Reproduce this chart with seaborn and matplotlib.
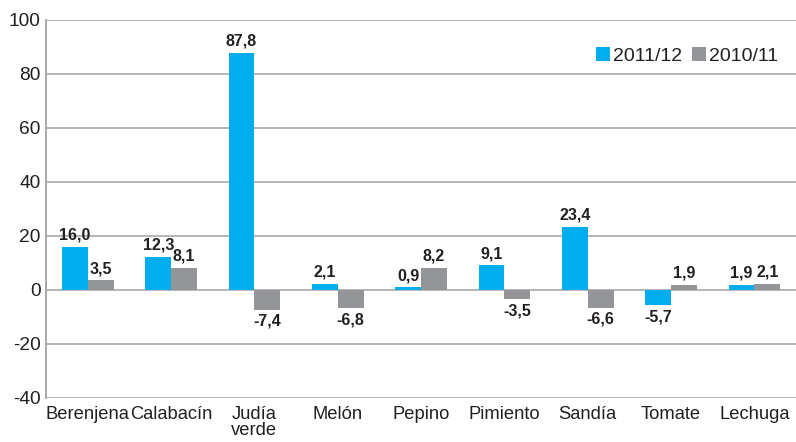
import matplotlib
matplotlib.use("Agg")
import matplotlib.pyplot as plt
import seaborn as sns
import pandas as pd

categories = ["Berenjena", "Calabacín", "Judía\nverde", "Melón", "Pepino",
              "Pimiento", "Sandía", "Tomate", "Lechuga"]
series_names = ["2011/12", "2010/11"]
values_2011_12 = [16.0, 12.3, 87.8, 2.1, 0.9, 9.1, 23.4, -5.7, 1.9]
values_2010_11 = [3.5, 8.1, -7.4, -6.8, 8.2, -3.5, -6.6, 1.9, 2.1]
y_ticks = [-40, -20, 0, 20, 40, 60, 80, 100]

df = pd.DataFrame({
    "cultivo": categories * 2,
    "campaña": [series_names[0]] * len(categories) + [series_names[1]] * len(categories),
    "variación": values_2011_12 + values_2010_11,
})

sns.set_theme(style="white")
plt.rcParams["font.family"] = ["Liberation Sans", "DejaVu Sans"]

text_color = "#231F20"
palette = {"2011/12": "#00AEEF", "2010/11": "#939598"}

fig = plt.figure(figsize=(7.96, 4.42), dpi=100)
ax = fig.add_axes([0.058, 0.10, 0.942, 0.855])

sns.barplot(data=df, x="cultivo", y="variación", hue="campaña",
            palette=palette, width=0.62, saturation=1, linewidth=0,
            ax=ax, zorder=3)

ax.set_ylim(-40, 100)
ax.set_yticks(y_ticks)
ax.set_yticklabels([str(t) for t in y_ticks])
ax.yaxis.grid(True, color="#B5B6B8", linewidth=1.4, zorder=0)
ax.set_axisbelow(True)
ax.set_xlim(-0.5, len(categories) - 0.5)
ax.set_xlabel("")
ax.set_ylabel("")
ax.tick_params(axis="y", length=0, labelsize=13.8, colors=text_color, pad=4)
ax.tick_params(axis="x", length=0, labelsize=13.2, colors=text_color, pad=6)
for lbl in ax.get_xticklabels():
    lbl.set_verticalalignment("top")
    lbl.set_linespacing(0.95)

for side in ["top", "right", "bottom"]:
    ax.spines[side].set_visible(False)
ax.spines["left"].set_color("#A7A9AC")
ax.spines["left"].set_linewidth(1.4)

for container in ax.containers:
    labels = [f"{b.get_height():.1f}".replace(".", ",") for b in container]
    ax.bar_label(container, labels=labels, padding=3, fontsize=11.5,
                 fontweight="bold", color=text_color)

ax.legend(loc="upper right", bbox_to_anchor=(1.0, 0.975), ncol=2,
          frameon=False, fontsize=14, handlelength=0.75, handleheight=0.75,
          handletextpad=0.15, columnspacing=0.5, labelcolor=text_color)

fig.savefig("out.png", dpi=100)
